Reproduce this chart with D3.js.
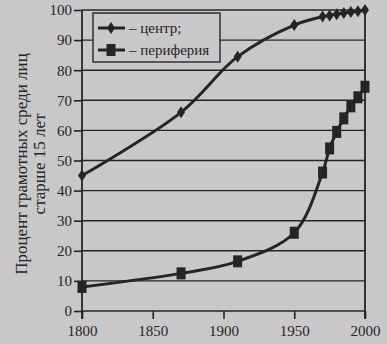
<!DOCTYPE html>
<html><head><meta charset="utf-8">
<script src="https://cdn.jsdelivr.net/npm/d3@7"></script>
<style>
html,body{margin:0;padding:0;background:#c9c7ca;}
svg{display:block;}
</style></head>
<body>
<svg id="chart" width="387" height="344"></svg>
<script>
const years = [1800, 1870, 1910, 1950, 1970, 1975, 1980, 1985, 1990, 1995, 2000];
const centerValues = [45, 66, 84.5, 95, 97.8, 98.2, 98.6, 99, 99.3, 99.6, 100];
const peripheryValues = [8, 12.5, 16.5, 26, 46, 54, 59.5, 64, 68, 71, 74.5];
const yTicks = [0, 10, 20, 30, 40, 50, 60, 70, 80, 90, 100];
const xTicks = [1800, 1850, 1900, 1950, 2000];
const seriesNames = ["– центр;", "– периферия"];
const yTitleLines = ["Процент грамотных среди лиц", "старше 15 лет"];

const ink = "#262427";
const bg = "#c9c7ca";
const svg = d3.select("#chart");
const x = d3.scaleLinear().domain([1800, 2000]).range([82, 365]);
const y = d3.scaleLinear().domain([0, 100]).range([311, 10]);

// gridlines
svg.append("g").selectAll("line").data(yTicks).join("line")
  .attr("x1", x(1800)).attr("x2", x(2000))
  .attr("y1", d => y(d)).attr("y2", d => y(d))
  .attr("stroke", ink).attr("stroke-width", 1.4);

// y axis
const yAxis = svg.append("g").attr("transform", `translate(${x(1800)},0)`)
  .call(d3.axisLeft(y).tickValues(yTicks).tickSize(8).tickPadding(2).tickFormat(d3.format("d")));
// x axis
const xAxis = svg.append("g").attr("transform", `translate(0,${y(0)})`)
  .call(d3.axisBottom(x).tickValues(xTicks).tickSize(8).tickPadding(6).tickFormat(d3.format("d")));
[yAxis, xAxis].forEach(a => {
  a.select(".domain").remove();
  a.selectAll("line").attr("stroke", ink).attr("stroke-width", 1.6);
  a.selectAll("text").attr("fill", ink).attr("font-family", "Liberation Serif")
    .attr("font-size", 15);
});
// axis lines
svg.append("line").attr("x1", x(1800)).attr("x2", x(1800)).attr("y1", y(100)).attr("y2", y(0) + 8)
  .attr("stroke", ink).attr("stroke-width", 1.8);
svg.append("line").attr("x1", x(2000)).attr("x2", x(2000)).attr("y1", y(100)).attr("y2", y(0) + 8)
  .attr("stroke", ink).attr("stroke-width", 1.8);

// y title
const yt = svg.append("g").attr("transform", "translate(0,164) rotate(-90)");
yt.selectAll("text").data(yTitleLines).join("text")
  .attr("x", 0).attr("y", (d, i) => 27 + i * 18)
  .attr("text-anchor", "middle").attr("fill", ink)
  .attr("font-family", "Liberation Serif").attr("font-size", 17)
  .text(d => d);

const line = d3.line().curve(d3.curveCatmullRom.alpha(0.5))
  .x((d, i) => x(years[i])).y(d => y(d));

svg.append("path").datum(centerValues).attr("d", line)
  .attr("fill", "none").attr("stroke", ink).attr("stroke-width", 3);
svg.append("path").datum(peripheryValues).attr("d", line)
  .attr("fill", "none").attr("stroke", ink).attr("stroke-width", 3);

const diamond = "M0,-6L4,0L0,6L-4,0Z";
svg.append("g").selectAll("path").data(centerValues).join("path")
  .attr("transform", (d, i) => `translate(${x(years[i])},${y(d)})`)
  .attr("d", diamond).attr("fill", ink);
svg.append("g").selectAll("rect").data(peripheryValues).join("rect")
  .attr("x", (d, i) => x(years[i]) - 4.5).attr("y", d => y(d) - 6)
  .attr("width", 9).attr("height", 12).attr("fill", ink);

// legend
const lg = svg.append("g");
lg.append("rect").attr("x", 93).attr("y", 13).attr("width", 127).attr("height", 49)
  .attr("fill", bg).attr("stroke", ink).attr("stroke-width", 1.4);
const rows = [28, 50];
rows.forEach((ry, i) => {
  lg.append("line").attr("x1", 98).attr("x2", 125).attr("y1", ry).attr("y2", ry)
    .attr("stroke", ink).attr("stroke-width", 3);
  if (i === 0) lg.append("path").attr("transform", `translate(111,${ry})`).attr("d", diamond).attr("fill", ink);
  else lg.append("rect").attr("x", 106.5).attr("y", ry - 6).attr("width", 9).attr("height", 12).attr("fill", ink);
  lg.append("text").attr("x", 129).attr("y", ry + 5).attr("fill", ink)
    .attr("font-family", "Liberation Serif").attr("font-size", 15).text(seriesNames[i]);
});
</script>
</body></html>
